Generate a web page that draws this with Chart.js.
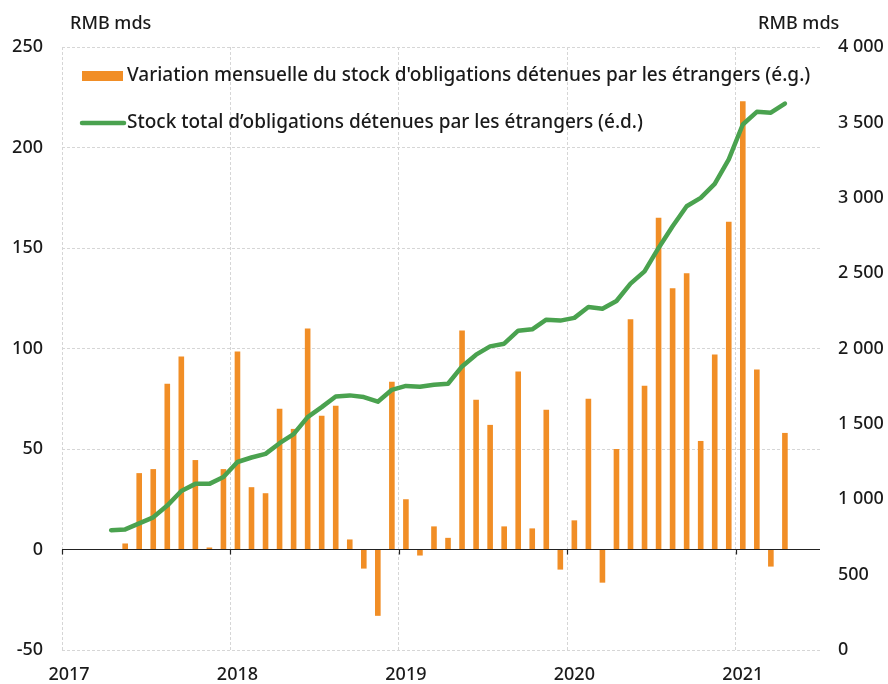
<!DOCTYPE html>
<html>
<head>
<meta charset="utf-8">
<script src="https://cdn.jsdelivr.net/npm/chart.js@4.4.1/dist/chart.umd.min.js"></script>
<style>
  body { margin: 0; background: #fff; }
  #wrap { width: 888px; height: 684px; position: relative; }
</style>
</head>
<body>
<div id="wrap"><canvas id="bondChart"></canvas></div>
<script>
const months = [
  '2017-01','2017-02','2017-03','2017-04','2017-05','2017-06','2017-07','2017-08','2017-09','2017-10','2017-11','2017-12',
  '2018-01','2018-02','2018-03','2018-04','2018-05','2018-06','2018-07','2018-08','2018-09','2018-10','2018-11','2018-12',
  '2019-01','2019-02','2019-03','2019-04','2019-05','2019-06','2019-07','2019-08','2019-09','2019-10','2019-11','2019-12',
  '2020-01','2020-02','2020-03','2020-04','2020-05','2020-06','2020-07','2020-08','2020-09','2020-10','2020-11','2020-12',
  '2021-01','2021-02','2021-03','2021-04','2021-05','2021-06'
];

// variation mensuelle (RMB mds, axe gauche)
const monthlyChange = [
  null, null, null, null, 3, 38, 40, 82.5, 96, 44.5, 1, 40,
  98.5, 31, 28, 70, 60, 110, 66.5, 71.5, 5, -9.5, -33, 83.5,
  25, -3, 11.5, 5.8, 109, 74.5, 62, 11.5, 88.5, 10.5, 69.5, -10,
  14.5, 75, -16.5, 50, 114.5, 81.5, 165, 130, 137.5, 54, 97, 163,
  223, 89.5, -8.5, 58, null, null
];

// stock total (RMB mds, axe droit)
const totalStock = [
  null, null, null, 795, 800, 840, 880, 958, 1055, 1102, 1102, 1147,
  1247, 1277, 1301, 1372, 1432, 1545, 1611, 1682, 1689, 1678, 1647, 1726,
  1752, 1746, 1760, 1766, 1881, 1959, 2014, 2032, 2118, 2127, 2191, 2185,
  2203, 2275, 2264, 2315, 2430, 2512, 2667, 2811, 2944, 2999, 3092, 3254,
  3486, 3570, 3564, 3625, null, null
];

const leftTicks = [-50, 0, 50, 100, 150, 200, 250];
const rightTicks = [0, 500, 1000, 1500, 2000, 2500, 3000, 3500, 4000];

const seriesNames = [
  "Variation mensuelle du stock d'obligations détenues par les étrangers (é.g.)",
  "Stock total d\u2019obligations détenues par les étrangers (é.d.)"
];
const unitLabel = 'RMB mds';

const ORANGE = '#F18E26';
const GREEN = '#4AA24F';
const TEXT = '#1a1a1a';
const GRID = '#d6d6d6';
const FONT = "'Noto Sans', sans-serif";

const spaced = v => String(v).replace(/\B(?=(\d{3})+(?!\d))/g, ' ');

// zero line, year ticks, legend and unit titles
const decorations = {
  id: 'decorations',
  beforeDatasetsDraw(chart) {
    const {ctx, chartArea, scales} = chart;
    const y0 = scales.y.getPixelForValue(0);
    ctx.save();
    ctx.strokeStyle = '#222';
    ctx.lineWidth = 1.2;
    ctx.beginPath();
    ctx.moveTo(chartArea.left, y0);
    ctx.lineTo(chartArea.right, y0);
    const step = scales.x.getPixelForValue(1) - scales.x.getPixelForValue(0);
    for (let i = 0; i < months.length; i += 12) {
      const xp = Math.round(scales.x.getPixelForValue(i) - step / 2) + 0.5;
      ctx.moveTo(xp, y0);
      ctx.lineTo(xp, y0 + 5);
    }
    ctx.stroke();
    ctx.restore();
  },
  afterDraw(chart) {
    const {ctx, chartArea} = chart;
    ctx.save();
    ctx.fillStyle = TEXT;
    ctx.textBaseline = 'middle';
    ctx.textAlign = 'left';
    ctx.font = '500 18px ' + FONT;
    ctx.fillText(unitLabel, chartArea.left + 8, 24);
    ctx.fillText(unitLabel, chartArea.right - 62, 24);

    const lx = chartArea.left + 20;
    const r1 = chartArea.top + 29;
    const r2 = chartArea.top + 76;
    ctx.fillStyle = ORANGE;
    ctx.fillRect(lx, r1 - 5, 41, 10);
    ctx.strokeStyle = GREEN;
    ctx.lineWidth = 4.5;
    ctx.lineCap = 'round';
    ctx.beginPath();
    ctx.moveTo(lx, r2);
    ctx.lineTo(lx + 42, r2);
    ctx.stroke();
    ctx.fillStyle = TEXT;
    ctx.font = '500 19px ' + FONT;
    ctx.fillText(seriesNames[0], lx + 45, r1);
    ctx.fillText(seriesNames[1], lx + 45, r2);
    ctx.restore();
  }
};

const tickFont = { family: FONT, size: 18, weight: 500 };

const config = {
  data: {
    labels: months,
    datasets: [
      {
        type: 'line',
        label: seriesNames[1],
        data: totalStock,
        yAxisID: 'y2',
        borderColor: GREEN,
        borderWidth: 4.5,
        borderCapStyle: 'round',
        borderJoinStyle: 'round',
        pointRadius: 0,
        tension: 0,
        order: 0
      },
      {
        type: 'bar',
        label: seriesNames[0],
        data: monthlyChange,
        yAxisID: 'y',
        backgroundColor: ORANGE,
        barPercentage: 0.4,
        categoryPercentage: 1,
        order: 1
      }
    ]
  },
  options: {
    responsive: true,
    maintainAspectRatio: false,
    animation: false,
    layout: { padding: { top: 47, left: 0, right: 0, bottom: 0 } },
    plugins: { legend: { display: false }, tooltip: { enabled: false } },
    scales: {
      x: {
        type: 'category',
        offset: true,
        grid: {
          offset: true,
          drawTicks: false,
          color: c => (c.index % 12 === 0 ? GRID : 'rgba(0,0,0,0)'),
          lineWidth: 1
        },
        border: { display: false, dash: [3, 2] },
        ticks: {
          autoSkip: false,
          maxRotation: 0,
          padding: 14,
          color: TEXT,
          font: tickFont,
          callback: function(v, i) { return i % 12 === 0 ? this.getLabelForValue(v).slice(0, 4) : ''; }
        },
        afterFit: s => { s.height = 34; }
      },
      y: {
        position: 'left',
        min: leftTicks[0],
        max: leftTicks[leftTicks.length - 1],
        afterBuildTicks: s => { s.ticks = leftTicks.map(v => ({ value: v })); },
        grid: { color: GRID, drawTicks: false, lineWidth: 1 },
        border: { display: false, dash: [3, 2] },
        ticks: { padding: 19, color: TEXT, font: tickFont },
        afterFit: s => { s.width = 62; }
      },
      y2: {
        position: 'right',
        min: rightTicks[0],
        max: rightTicks[rightTicks.length - 1],
        afterBuildTicks: s => { s.ticks = rightTicks.map(v => ({ value: v })); },
        grid: { display: false, drawTicks: false },
        border: { display: false },
        ticks: {
          padding: 18,
          color: TEXT,
          font: tickFont,
          callback: v => spaced(v)
        },
        afterFit: s => { s.width = 68; }
      }
    }
  },
  plugins: [decorations]
};

const myChart = new Chart(document.getElementById('bondChart'), config);
</script>
</body>
</html>
